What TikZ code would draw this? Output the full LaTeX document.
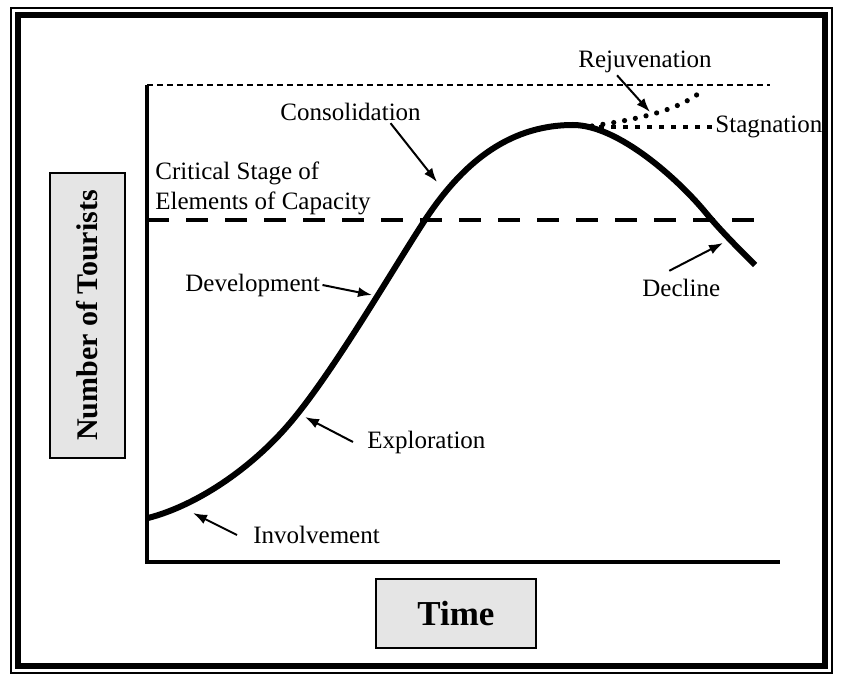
\documentclass[tikz,border=0pt]{standalone}
\usepackage{fontspec}
\setmainfont{Liberation Serif}
\usepackage{tikz}
\usetikzlibrary{arrows.meta}
\tikzset{>={Latex[length=7pt,width=5pt]},
  lbl/.style={font=\fontsize{12.5}{15}\selectfont,inner sep=1pt,anchor=west},
  ptr/.style={->,line width=1pt},
  axbox/.style={draw,line width=0.9pt,fill=black!10,inner sep=0pt},
  capline/.style={line width=2pt,dash pattern=on 11pt off 8.5pt},
  maxline/.style={line width=0.8pt,dash pattern=on 3pt off 2pt}}

\begin{document}
\begin{tikzpicture}[x=0.5pt,y=-0.5pt]
    \useasboundingbox (0,0) rectangle (841,684);
    \draw[line width=0.8pt] (11,8) rectangle (832,673);
    \draw[line width=2.6pt] (18,15) rectangle (825,666);
    % axes
    \coordinate (o) at (147,562);
    \coordinate (ytop) at (147,85);
    \coordinate (xend) at (780,562);
    \draw[line width=2.2pt] (ytop) -- (o) -- (xend);
    \draw[maxline] (ytop) -- (770,85);
    \draw[capline] (147,220) -- (762,220);
    % axis titles
    \node[axbox,minimum width=37.5pt,minimum height=142.5pt,anchor=north west] (ny) at (49,172) {};
    \node[rotate=90,font=\fontsize{15}{18}\selectfont\bfseries] at (ny.center) {Number of Tourists};
    \node[axbox,minimum width=80pt,minimum height=34.5pt,anchor=north west] (nt) at (375,578) {};
    \node[font=\fontsize{17.5}{20}\selectfont\bfseries] at (nt.center) {Time};
    % life cycle curve
    \draw[line width=3pt] (148,518)
      .. controls (195,506) and (250,470) .. (290,423)
      .. controls (335,370) and (397,262) .. (427,217)
      .. controls (460,168) and (505,125) .. (573,125)
      .. controls (618,125) and (678,179) .. (706,213)
      .. controls (720,230) and (740,250) .. (755,265);
    \draw[line width=2.6pt,line cap=round,dash pattern=on 0pt off 5.5pt]
      (592,126) .. controls (640,119) and (680,110) .. (703,90);
    \draw[line width=2pt,dash pattern=on 2.5pt off 3.5pt] (587,127) -- (712,127);
    % stage labels
    \node[lbl] (con) at (278,112) {Consolidation};
    \node[lbl,align=left] (crit) at (153,188) {Critical Stage of\\Elements of Capacity};
    \node[lbl] (dev) at (183,285) {Development};
    \node[lbl] (exp) at (365,442) {Exploration};
    \node[lbl] (inv) at (251,535) {Involvement};
    \node[lbl] (rej) at (576,62) {Rejuvenation};
    \node[lbl] (stag) at (713,127) {Stagnation};
    \node[lbl] (dec) at (640,288) {Decline};
    \coordinate (c1) at (193,513);
    \coordinate (c2) at (305,417);
    \coordinate (c3) at (372,295);
    \coordinate (c4) at (437,182);
    \coordinate (c5) at (650,112);
    \coordinate (c6) at (723,243);
    \path
    ([xshift=-7pt]inv.west) edge[ptr] (c1)
    ([xshift=-6pt]exp.west) edge[ptr] (c2)
    (dev.east) edge[ptr] (c3)
    ([xshift=20pt]con.south) edge[ptr] (c4)
    ([xshift=-14pt]rej.south) edge[ptr] (c5)
    ([xshift=-6pt,yshift=3pt]dec.north) edge[ptr] (c6)
    ;
\end{tikzpicture}
\end{document}
